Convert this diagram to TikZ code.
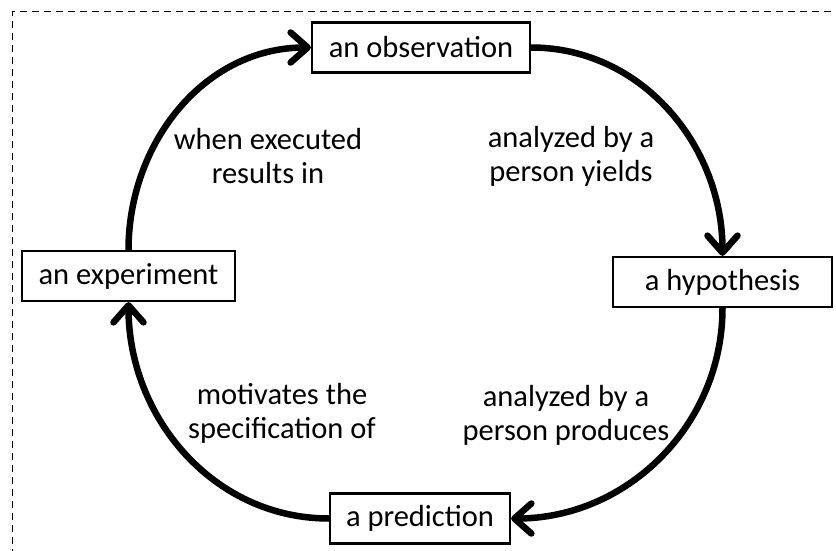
\documentclass[tikz,border=0pt]{standalone}
\usepackage{fontspec}
\setmainfont{Carlito}
\usetikzlibrary{arrows.meta}
\tikzset{
  stageBox/.style={draw, line width=2.2pt, minimum height=50pt, inner sep=0pt,
    font=\fontsize{30.5}{35}\selectfont},
  edgeLabel/.style={align=center, font=\fontsize{30.5}{34}\selectfont},
  cycleArrow/.style={line width=6.5pt,
    -{Straight Barb[length=17pt,width=30pt,line cap=round,line join=round]}},
}
\begin{document}
\begin{tikzpicture}[x=1pt,y=-1pt]
\useasboundingbox (0,0) rectangle (836,551);
\draw[dash pattern=on 7pt off 5pt, line width=1pt] (12,580) -- (12,12) -- (860,12);

\node[stageBox, minimum width=218pt] (observation) at (421,47.5) {an observation};
\node[stageBox, minimum width=219pt] (hypothesis) at (722.5,282) {a hypothesis};
\node[stageBox, minimum width=180pt] (prediction) at (420,518.5) {a prediction};
\node[stageBox, minimum width=213pt] (experiment) at (128.5,276) {an experiment};

\draw[cycleArrow] (observation.east) to[out=0,in=90] (hypothesis.north);
\draw[cycleArrow] (hypothesis.south) to[out=-90,in=0] (prediction.east);
\draw[cycleArrow] (prediction.west) to[out=180,in=-90] (experiment.south);
\draw[cycleArrow] (experiment.north) to[out=90,in=180] (observation.west);

\node[edgeLabel] (yieldsLabel) at (571,156) {analyzed by a\\person yields};
\node[edgeLabel] (producesLabel) at (566,415) {analyzed by a\\person produces};
\node[edgeLabel] (motivatesLabel) at (282,413) {motivates the\\specification of};
\node[edgeLabel] (resultsLabel) at (268,156) {when executed\\results in};
\end{tikzpicture}
\end{document}
